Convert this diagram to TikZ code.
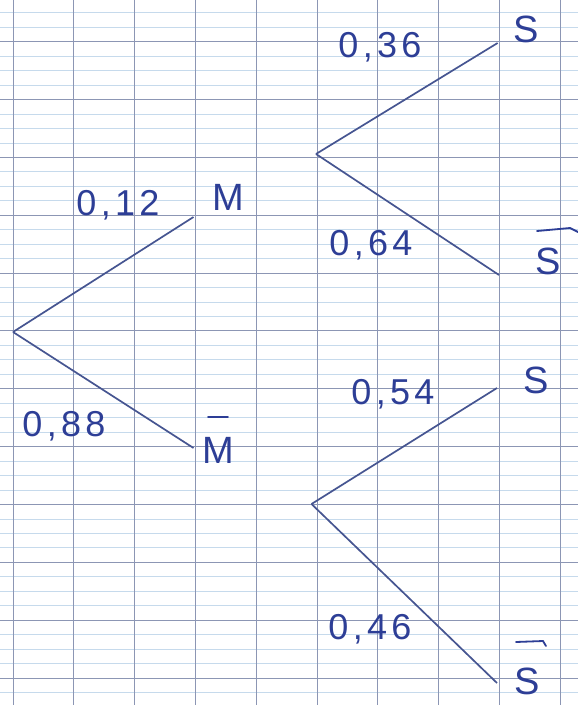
\documentclass[tikz,border=0pt]{standalone}
\usepackage{fontspec}
\setmainfont{Liberation Sans}
\newfontfamily\handfont[LetterSpace=12]{Liberation Sans}
\definecolor{ink}{RGB}{45,62,150}
\definecolor{stroke}{RGB}{70,85,145}
\definecolor{major}{RGB}{140,150,180}
\definecolor{minor}{RGB}{198,218,236}
\tikzset{
  minorline/.style={draw=minor, line width=0.8pt},
  majorline/.style={draw=major, line width=1.0pt},
  branch/.style={draw=stroke, line width=1.7pt},
  prob/.style={text=ink, font=\handfont\fontsize{36}{36}\selectfont, inner sep=0pt},
  event/.style={text=ink, font=\fontsize{38}{38}\selectfont, inner sep=0pt},
  barstroke/.style={draw=ink, line width=1.8pt, line cap=round}
}
\begin{document}
\begin{tikzpicture}[x=1pt,y=-1pt]
\useasboundingbox (0,0) rectangle (578,705);
\fill[white] (0,0) rectangle (578,705);
% grid paper
\foreach \k in {-1,...,11}{
  \foreach \j in {1,2,3}{
    \draw[minorline] (0,{41.7+57.85*\k+14.4625*\j}) -- (578,{41.7+57.85*\k+14.4625*\j});
  }
}
\foreach \k in {0,...,11}{
  \draw[majorline] (0,{41.7+57.85*\k}) -- (578,{41.7+57.85*\k});
}
\foreach \k in {0,...,9}{
  \draw[majorline] ({13+60.8*\k},0) -- ({13+60.8*\k},705);
}
% tree points
\coordinate (r) at (13,332);
\coordinate (m) at (193.5,217);
\coordinate (mb) at (193.5,448);
\coordinate (u) at (316,154);
\coordinate (us) at (497.6,43);
\coordinate (usb) at (499,275);
\coordinate (l) at (311.5,504);
\coordinate (ls) at (497,388);
\coordinate (lsb) at (497,683);
% branches
\draw[branch] (r) -- (m);
\draw[branch] (r) -- (mb);
\draw[branch] (u) -- (us);
\draw[branch] (u) -- (usb);
\draw[branch] (l) -- (ls);
\draw[branch] (l) -- (lsb);
% events
\node[event] (M) at (228,197) {M};
\node[event] (Mb) at (218,450) {M};
\node[event] (S1) at (526,29) {S};
\node[event] (S1b) at (548,261) {S};
\node[event] (S2) at (536,380) {S};
\node[event] (S2b) at (527,681) {S};
% bars
\draw[barstroke] ([shift={(-10,-33)}]Mb.center) -- ([shift={(10,-33)}]Mb.center);
\draw[barstroke] ([shift={(-11,-30)}]S1b.center) -- ([shift={(22,-33)}]S1b.center) -- ([shift={(30,-29)}]S1b.center);
\draw[barstroke] ([shift={(-11,-39)}]S2b.center) -- ([shift={(16,-40)}]S2b.center) -- ([shift={(19,-35)}]S2b.center);
% probabilities
\node[prob] (p12) at (118,205) {0,12};
\node[prob] (p88) at (64,426) {0,88};
\node[prob] (p36) at (380,47) {0,36};
\node[prob] (p64) at (371,245) {0,64};
\node[prob] (p54) at (393,394) {0,54};
\node[prob] (p46) at (370,629) {0,46};
\end{tikzpicture}
\end{document}
